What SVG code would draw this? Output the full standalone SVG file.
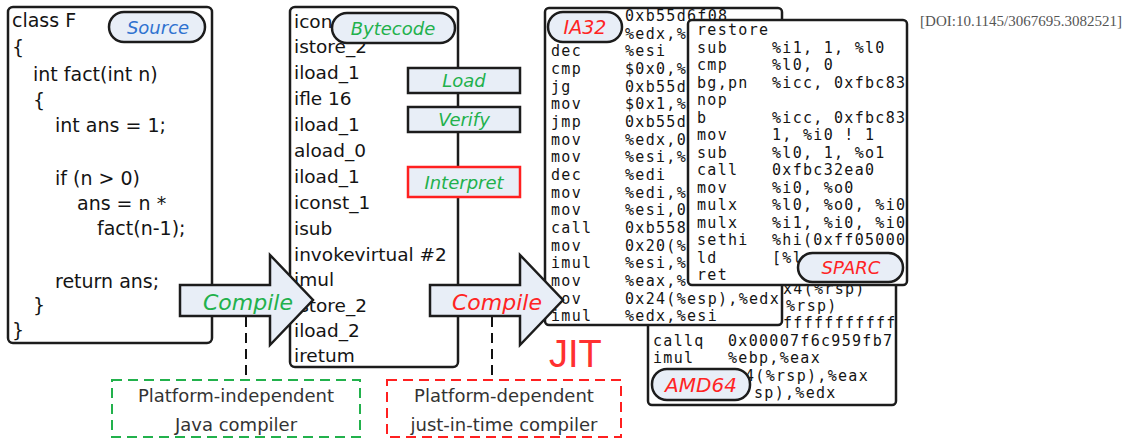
<svg xmlns="http://www.w3.org/2000/svg" width="1128" height="440" viewBox="0 0 1128 440">
<style>
.box{fill:#fff;stroke:#1c1c1c;stroke-width:2.5}
.pill{fill:#e8eef7;stroke:#1c1c1c;stroke-width:2.5}
.step{fill:#e8eef7;stroke:#1c1c1c;stroke-width:2.5}
.arrow{fill:#e8eef7;stroke:#1c1c1c;stroke-width:2.5;stroke-linejoin:miter}
.src{font-family:"DejaVu Sans",sans-serif;font-size:19px;fill:#141414}
.bc{font-family:"DejaVu Sans",sans-serif;font-size:18.5px;fill:#141414}
.mono{font-family:"DejaVu Sans Mono",monospace;font-size:15px;letter-spacing:1.3px;fill:#141414}
.lab{font-family:"DejaVu Sans",sans-serif;font-style:italic;font-size:18px;text-anchor:middle}
.note{font-family:"DejaVu Sans",sans-serif;font-size:18px;fill:#333;text-anchor:middle}
.green{fill:#22b14c}.red{fill:#ff2424}.blue{fill:#2f72d0}
.dash{fill:none;stroke-width:2;stroke-dasharray:10 6}
</style>
<defs>
<clipPath id="cIA"><rect x="545" y="8" width="237" height="317"/></clipPath>
<clipPath id="cSP"><rect x="688" y="20" width="218" height="265"/></clipPath>
<clipPath id="cAM"><rect x="648" y="200" width="248" height="205"/></clipPath>
</defs>

<text x="1122" y="26" text-anchor="end" font-family="Liberation Serif,serif" font-size="15" fill="#555">[DOI:10.1145/3067695.3082521]</text>

<g id="source">
<rect class="box" x="8" y="7" width="204" height="336" rx="5"/>
<text class="src" x="12" y="27">class F</text>
<text class="src" x="12" y="54">{</text>
<text class="src" x="33" y="81">int fact(int n)</text>
<text class="src" x="33" y="107">{</text>
<text class="src" x="55" y="132">int ans = 1;</text>
<text class="src" x="55" y="185">if (n &gt; 0)</text>
<text class="src" x="77" y="210">ans = n *</text>
<text class="src" x="97" y="235">fact(n-1);</text>
<text class="src" x="55" y="288">return ans;</text>
<text class="src" x="33" y="312">}</text>
<text class="src" x="12" y="337">}</text>
<rect class="pill" x="109" y="12" width="96" height="30" rx="15"/>
<text class="lab blue" x="158" y="34">Source</text>
</g>

<g id="bytecode">
<rect class="box" x="290" y="7" width="168" height="360" rx="5"/>
<text class="bc" x="294" y="28">icon</text>
<text class="bc" x="294" y="53">istore_2</text>
<text class="bc" x="294" y="79">iload_1</text>
<text class="bc" x="294" y="105">ifle 16</text>
<text class="bc" x="294" y="131">iload_1</text>
<text class="bc" x="294" y="157">aload_0</text>
<text class="bc" x="294" y="183">iload_1</text>
<text class="bc" x="294" y="209">iconst_1</text>
<text class="bc" x="294" y="235">isub</text>
<text class="bc" x="294" y="261">invokevirtual #2</text>
<text class="bc" x="294" y="286">imul</text>
<text class="bc" x="294" y="312">istore_2</text>
<text class="bc" x="294" y="337">iload_2</text>
<text class="bc" x="294" y="362">iretum</text>
<rect class="pill" x="332" y="13" width="123" height="30" rx="15"/>
<text class="lab green" x="393" y="35">Bytecode</text>
</g>

<g id="load"><rect class="step" x="408" y="68" width="112" height="25"/><text class="lab green" x="464" y="87">Load</text></g>
<g id="verify"><rect class="step" x="408" y="107" width="112" height="25"/><text class="lab green" x="464" y="126">Verify</text></g>
<g id="interpret"><rect class="step" x="408" y="167" width="112" height="30" style="stroke:#ff2020"/><text class="lab green" x="464" y="189">Interpret</text></g>

<g id="amd64">
<rect class="box" x="648" y="200" width="248" height="205" rx="4"/>
<g clip-path="url(#cAM)">
<text class="mono" x="783" y="294">x4(%rsp)</text>
<text class="mono" x="786" y="311">%rsp)</text>
<text class="mono" x="783" y="328">fffffffffff</text>
<text class="mono" x="653" y="346">callq</text><text class="mono" x="728" y="346">0x00007f6c959fb7</text>
<text class="mono" x="653" y="363">imul</text><text class="mono" x="728" y="363">%ebp,%eax</text>
<text class="mono" x="745" y="381">4(%rsp),%eax</text>
<text class="mono" x="754" y="398">sp),%edx</text>
</g>
<rect class="pill" x="652" y="369" width="98" height="31" rx="15"/>
<text class="lab red" x="701" y="392" style="font-size:20px">AMD64</text>
</g>

<g id="ia32">
<rect class="box" x="545" y="8" width="237" height="317" rx="4"/>
<g clip-path="url(#cIA)">
<text class="mono" x="625" y="21">0xb55d6f08</text>
<text class="mono" x="625" y="39">%edx,%</text>
<text class="mono" x="551" y="56">dec</text><text class="mono" x="625" y="56">%esi</text>
<text class="mono" x="551" y="74">cmp</text><text class="mono" x="625" y="74">$0x0,%</text>
<text class="mono" x="551" y="92">jg</text><text class="mono" x="625" y="92">0xb55d</text>
<text class="mono" x="551" y="109">mov</text><text class="mono" x="625" y="109">$0x1,%</text>
<text class="mono" x="551" y="127">jmp</text><text class="mono" x="625" y="127">0xb55d</text>
<text class="mono" x="551" y="145">mov</text><text class="mono" x="625" y="145">%edx,0</text>
<text class="mono" x="551" y="162">mov</text><text class="mono" x="625" y="162">%esi,%</text>
<text class="mono" x="551" y="180">dec</text><text class="mono" x="625" y="180">%edi</text>
<text class="mono" x="551" y="198">mov</text><text class="mono" x="625" y="198">%edi,%</text>
<text class="mono" x="551" y="215">mov</text><text class="mono" x="625" y="215">%esi,0</text>
<text class="mono" x="551" y="233">call</text><text class="mono" x="625" y="233">0xb558</text>
<text class="mono" x="551" y="251">mov</text><text class="mono" x="625" y="251">0x20(%</text>
<text class="mono" x="551" y="268">imul</text><text class="mono" x="625" y="268">%esi,%</text>
<text class="mono" x="551" y="286">mov</text><text class="mono" x="625" y="286">%eax,%</text>
<text class="mono" x="551" y="304">mov</text><text class="mono" x="625" y="304">0x24(%esp),%edx</text>
<text class="mono" x="551" y="321">imul</text><text class="mono" x="625" y="321">%edx,%esi</text>
</g>
<rect class="pill" x="548" y="12" width="74" height="30" rx="15"/>
<text class="lab red" x="585" y="34" style="font-size:19px">IA32</text>
</g>

<g id="sparc">
<rect class="box" x="688" y="20" width="219" height="265" rx="4"/>
<g clip-path="url(#cSP)">
<text class="mono" x="697" y="35">restore</text>
<text class="mono" x="697" y="53">sub</text><text class="mono" x="772" y="53">%i1, 1, %l0</text>
<text class="mono" x="697" y="70">cmp</text><text class="mono" x="772" y="70">%l0, 0</text>
<text class="mono" x="697" y="88">bg,pn</text><text class="mono" x="772" y="88">%icc, 0xfbc83</text>
<text class="mono" x="697" y="105">nop</text>
<text class="mono" x="697" y="123">b</text><text class="mono" x="772" y="123">%icc, 0xfbc83</text>
<text class="mono" x="697" y="140">mov</text><text class="mono" x="772" y="140">1, %i0 ! 1</text>
<text class="mono" x="697" y="158">sub</text><text class="mono" x="772" y="158">%l0, 1, %o1</text>
<text class="mono" x="697" y="175">call</text><text class="mono" x="772" y="175">0xfbc32ea0</text>
<text class="mono" x="697" y="193">mov</text><text class="mono" x="772" y="193">%i0, %o0</text>
<text class="mono" x="697" y="210">mulx</text><text class="mono" x="772" y="210">%l0, %o0, %i0</text>
<text class="mono" x="697" y="228">mulx</text><text class="mono" x="772" y="228">%i1, %i0, %i0</text>
<text class="mono" x="697" y="245">sethi</text><text class="mono" x="772" y="245">%hi(0xff05000</text>
<text class="mono" x="697" y="263">ld</text><text class="mono" x="772" y="263">[%l</text>
<text class="mono" x="697" y="280">ret</text>
</g>
<rect class="pill" x="798" y="253" width="105" height="29" rx="14.5"/>
<text class="lab red" x="851" y="274">SPARC</text>
</g>

<g id="connectors">
<path class="dash" d="M246,317 V380" stroke="#111"/>
<path class="dash" d="M492,317 V380" stroke="#111"/>
<g id="compile1"><path class="arrow" d="M180,285 H270 V255 L313,300 L270,345 V316 H180 Z"/><text class="lab green" x="248" y="310" style="font-size:22px">Compile</text></g>
<g id="compile2"><path class="arrow" d="M430,285 H520 V255 L563,300 L520,345 V316 H430 Z"/><text class="lab red" x="497" y="310" style="font-size:22px">Compile</text></g>
</g>

<text x="549" y="367" font-family="Liberation Sans,sans-serif" font-size="38" fill="#ff3030">JIT</text>

<g id="javac">
<rect class="dash" x="112" y="380" width="248" height="57" stroke="#22b14c"/>
<text class="note" x="236" y="402">Platform-independent</text>
<text class="note" x="236" y="431">Java compiler</text>
</g>
<g id="jit">
<rect class="dash" x="387" y="380" width="234" height="57" stroke="#ff2020"/>
<text class="note" x="504" y="402">Platform-dependent</text>
<text class="note" x="504" y="431">just-in-time compiler</text>
</g>
</svg>
